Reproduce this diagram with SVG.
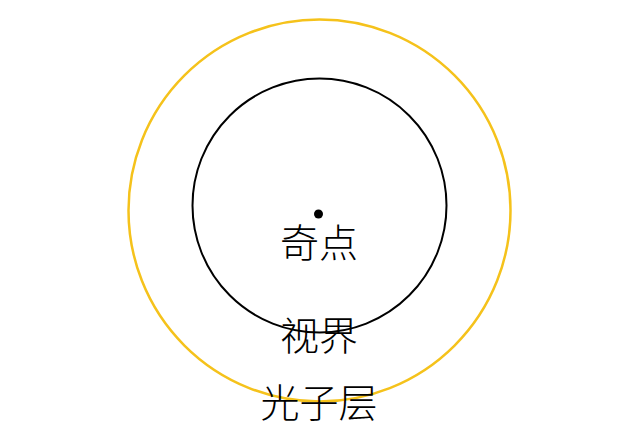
<svg xmlns="http://www.w3.org/2000/svg" width="640" height="433" viewBox="0 0 640 433">
<style>
.lbl{font-family:"Liberation Serif","Noto Sans CJK SC",serif;font-size:39px;fill:#000;text-anchor:middle;font-weight:300}
</style>
<rect width="640" height="433" fill="#fff"/>
<g id="photon-sphere"><circle cx="319.5" cy="210.5" r="191" fill="none" stroke="#F5C21B" stroke-width="2.5"/></g>
<g id="event-horizon"><circle cx="319.5" cy="205.5" r="127" fill="none" stroke="#000" stroke-width="2"/></g>
<g id="singularity"><circle cx="318.5" cy="214" r="4.5" fill="#000"/></g>
<g id="labels">
<text class="lbl" x="319" y="257">奇点</text>
<text class="lbl" x="319" y="350">视界</text>
<text class="lbl" x="319" y="417">光子层</text>
</g>
</svg>
